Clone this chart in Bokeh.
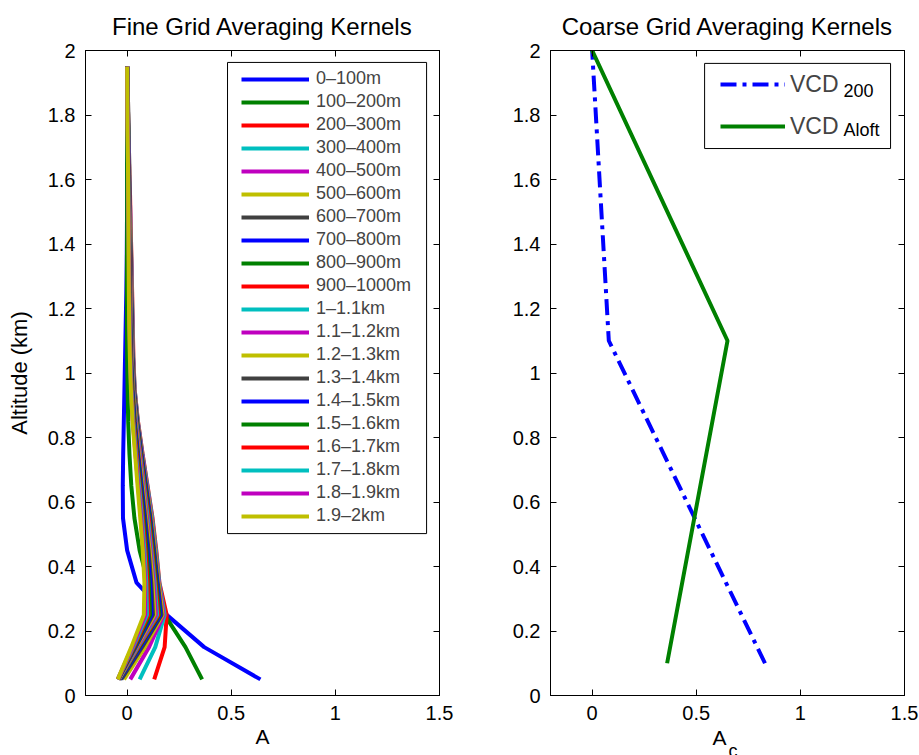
from bokeh.plotting import figure
from bokeh.layouts import row
from bokeh.models import (Range1d, FixedTicker, CustomJSTickFormatter, LinearAxis,
                          Legend, LegendItem, BoxAnnotation, Label, Title)
from bokeh.embed import file_html
from bokeh.resources import INLINE

# ---------------- data ----------------
alt_fine = [0.05, 0.15, 0.25, 0.35, 0.45, 0.55, 0.65, 0.75, 0.85, 0.95,
            1.05, 1.15, 1.25, 1.35, 1.45, 1.55, 1.65, 1.75, 1.85, 1.95]

layer_labels = ["0–100m", "100–200m", "200–300m", "300–400m", "400–500m",
                "500–600m", "600–700m", "700–800m", "800–900m", "900–1000m",
                "1–1.1km", "1.1–1.2km", "1.2–1.3km", "1.3–1.4km", "1.4–1.5km",
                "1.5–1.6km", "1.6–1.7km", "1.7–1.8km", "1.8–1.9km", "1.9–2km"]

k00 = [0.64, 0.37, 0.19, 0.045, 0.000, -0.020, -0.021, -0.019, -0.016, -0.013, -0.010, -0.007, -0.004, -0.002, -0.001, 0.000, 0.000, 0.000, 0.000, 0.000]
k01 = [0.36, 0.28, 0.18, 0.100, 0.060, 0.035, 0.020, 0.011, 0.005, 0.002, 0.000, -0.001, -0.001, -0.001, 0.000, 0.000, 0.000, 0.000, 0.000, 0.000]
k02 = [0.13, 0.18, 0.19, 0.155, 0.140, 0.122, 0.098, 0.074, 0.052, 0.036, 0.030, 0.027, 0.024, 0.021, 0.017, 0.014, 0.010, 0.007, 0.004, 0.000]
k03 = [0.06, 0.135, 0.18, 0.154, 0.138, 0.120, 0.097, 0.073, 0.051, 0.036, 0.029, 0.026, 0.023, 0.020, 0.016, 0.013, 0.010, 0.007, 0.004, 0.000]
k04 = [0.015, 0.105, 0.175, 0.152, 0.135, 0.117, 0.095, 0.072, 0.050, 0.035, 0.028, 0.025, 0.022, 0.019, 0.016, 0.013, 0.009, 0.006, 0.003, 0.000]
k05 = [-0.015, 0.085, 0.170, 0.150, 0.133, 0.115, 0.093, 0.070, 0.049, 0.034, 0.027, 0.024, 0.021, 0.018, 0.015, 0.012, 0.009, 0.006, 0.003, 0.000]
k06 = [-0.028, 0.072, 0.165, 0.147, 0.130, 0.112, 0.091, 0.069, 0.048, 0.033, 0.026, 0.023, 0.020, 0.017, 0.014, 0.011, 0.008, 0.006, 0.003, 0.000]
k07 = [-0.034, 0.064, 0.160, 0.144, 0.127, 0.109, 0.089, 0.067, 0.047, 0.032, 0.025, 0.022, 0.019, 0.016, 0.013, 0.011, 0.008, 0.005, 0.003, 0.000]
k08 = [-0.037, 0.058, 0.155, 0.140, 0.124, 0.106, 0.086, 0.065, 0.046, 0.031, 0.024, 0.021, 0.018, 0.015, 0.013, 0.010, 0.008, 0.005, 0.002, 0.000]
k09 = [-0.039, 0.054, 0.150, 0.136, 0.120, 0.103, 0.083, 0.063, 0.044, 0.030, 0.023, 0.020, 0.017, 0.015, 0.012, 0.010, 0.007, 0.005, 0.002, 0.000]
k10 = [-0.040, 0.050, 0.144, 0.132, 0.116, 0.099, 0.080, 0.061, 0.043, 0.029, 0.022, 0.019, 0.016, 0.014, 0.012, 0.009, 0.007, 0.005, 0.002, 0.000]
k11 = [-0.041, 0.047, 0.138, 0.127, 0.112, 0.095, 0.077, 0.059, 0.041, 0.028, 0.021, 0.018, 0.016, 0.013, 0.011, 0.009, 0.007, 0.004, 0.002, 0.000]
k12 = [-0.042, 0.044, 0.131, 0.122, 0.108, 0.091, 0.074, 0.056, 0.039, 0.027, 0.020, 0.017, 0.015, 0.013, 0.011, 0.008, 0.006, 0.004, 0.002, 0.000]
k13 = [-0.043, 0.041, 0.124, 0.116, 0.103, 0.087, 0.070, 0.053, 0.037, 0.026, 0.019, 0.016, 0.014, 0.012, 0.010, 0.008, 0.006, 0.004, 0.002, 0.000]
k14 = [-0.043, 0.038, 0.117, 0.110, 0.098, 0.083, 0.067, 0.050, 0.035, 0.024, 0.018, 0.015, 0.013, 0.011, 0.009, 0.007, 0.006, 0.004, 0.002, 0.000]
k15 = [-0.044, 0.035, 0.110, 0.104, 0.093, 0.079, 0.063, 0.047, 0.033, 0.023, 0.017, 0.014, 0.012, 0.010, 0.009, 0.007, 0.005, 0.003, 0.002, 0.000]
k16 = [-0.044, 0.032, 0.102, 0.098, 0.088, 0.075, 0.060, 0.045, 0.031, 0.021, 0.016, 0.013, 0.011, 0.010, 0.008, 0.006, 0.005, 0.003, 0.001, 0.000]
k17 = [-0.045, 0.028, 0.095, 0.092, 0.083, 0.071, 0.057, 0.042, 0.029, 0.020, 0.015, 0.012, 0.010, 0.009, 0.007, 0.006, 0.004, 0.003, 0.001, 0.000]
k18 = [-0.045, 0.024, 0.087, 0.087, 0.078, 0.067, 0.053, 0.040, 0.027, 0.019, 0.014, 0.011, 0.009, 0.008, 0.007, 0.005, 0.004, 0.003, 0.001, 0.000]
k19 = [-0.045, 0.020, 0.080, 0.083, 0.075, 0.063, 0.050, 0.038, 0.026, 0.018, 0.013, 0.010, 0.008, 0.007, 0.006, 0.005, 0.004, 0.002, 0.001, 0.000]

kernels = [k00, k01, k02, k03, k04, k05, k06, k07, k08, k09,
           k10, k11, k12, k13, k14, k15, k16, k17, k18, k19]

alt_coarse = [0.1, 1.1, 2.0]
vcd_200 = [0.83, 0.08, 0.0]
vcd_aloft = [0.36, 0.65, 0.0]

x_ticks = [0, 0.5, 1, 1.5]
y_ticks = [0, 0.2, 0.4, 0.6, 0.8, 1.0, 1.2, 1.4, 1.6, 1.8, 2.0]

# ---------------- styling helpers ----------------
FONT = "Liberation Sans"
matlab_colors = ["#0000ff", "#008000", "#ff0000", "#00bfbf", "#bf00bf", "#bfbf00", "#404040"]
fmt_code = "return String(Number(tick.toFixed(2)));"


def style_axis(ax):
    ax.major_tick_in = 6
    ax.major_tick_out = 0
    ax.minor_tick_line_color = None
    ax.axis_line_color = "black"
    ax.major_tick_line_color = "black"
    ax.major_label_text_font = FONT
    ax.major_label_text_color = "black"
    ax.axis_label_text_font = FONT
    ax.axis_label_text_font_style = "normal"
    ax.axis_label_text_color = "black"


def make_fig(title, width, left_border, right_border):
    p = figure(width=width, height=755, output_backend="svg", toolbar_location=None,
               x_range=Range1d(-0.2, 1.5), y_range=Range1d(0, 2),
               min_border_left=left_border, min_border_right=right_border,
               min_border_top=50, min_border_bottom=60, title=title)
    p.title.align = "center"
    p.title.text_font = FONT
    p.title.text_font_style = "normal"
    p.title.text_font_size = "24px"
    p.title.text_color = "black"
    p.title.standoff = 21
    p.xgrid.visible = False
    p.ygrid.visible = False
    p.outline_line_color = "black"
    p.outline_line_alpha = 1
    p.background_fill_color = "white"
    p.border_fill_color = "white"
    bottom = p.below[0]
    left = p.left[0]
    bottom.ticker = FixedTicker(ticks=x_ticks)
    left.ticker = FixedTicker(ticks=y_ticks)
    bottom.formatter = CustomJSTickFormatter(code=fmt_code)
    left.formatter = CustomJSTickFormatter(code=fmt_code)
    for ax in (bottom, left):
        style_axis(ax)
        ax.major_label_text_font_size = "20px"
        ax.major_label_standoff = 10
    # mirrored ticks on top and right (MATLAB box), without labels
    top = LinearAxis(ticker=FixedTicker(ticks=x_ticks),
                     formatter=CustomJSTickFormatter(code="return '';"))
    right = LinearAxis(ticker=FixedTicker(ticks=y_ticks),
                       formatter=CustomJSTickFormatter(code="return '';"))
    for ax in (top, right):
        style_axis(ax)
        ax.major_label_text_font_size = "1px"
        ax.major_label_standoff = 0
    p.add_layout(top, "above")
    p.add_layout(right, "right")
    return p, bottom, left


# ---------------- left: fine grid ----------------
p1, b1, l1 = make_fig("Fine Grid Averaging Kernels", 470, 85, 31)
l1.axis_label = "Altitude (km)"
l1.axis_label_text_font_size = "22px"
l1.axis_label_standoff = 13
b1.axis_label = "A"
b1.axis_label_text_font_size = "21px"
b1.axis_label_standoff = 2

items = []
for i, (k, lab) in enumerate(zip(kernels, layer_labels)):
    r = p1.line(k, alt_fine, line_color=matlab_colors[i % 7], line_width=4)
    items.append(LegendItem(label=lab, renderers=[r]))

p1.add_layout(BoxAnnotation(left=0.482, right=1.438, bottom=0.502, top=1.963,
                            fill_color="white", fill_alpha=1,
                            line_color="black", line_width=1, line_alpha=1))
leg1 = Legend(items=items, location=(156, 169), padding=0, margin=0, spacing=2,
              glyph_width=68, glyph_height=20, label_height=20, label_standoff=7,
              label_text_font=FONT, label_text_font_size="18px",
              border_line_alpha=0, background_fill_alpha=0)
p1.add_layout(leg1)

# ---------------- right: coarse grid ----------------
p2, b2, l2 = make_fig("Coarse Grid Averaging Kernels", 449, 80, 15)

r_a = p2.line(vcd_200, alt_coarse, line_color="#0000ff", line_width=4, line_dash="16 6 4 6")
r_b = p2.line(vcd_aloft, alt_coarse, line_color="#008000", line_width=4)

p2.add_layout(BoxAnnotation(left=0.54, right=1.433, bottom=1.696, top=1.960,
                            fill_color="white", fill_alpha=1,
                            line_color="black", line_width=1, line_alpha=1))
leg2 = Legend(items=[LegendItem(label="VCD", renderers=[r_a]),
                     LegendItem(label="VCD", renderers=[r_b])],
              location=(170, 554), padding=0, margin=0, spacing=12,
              glyph_width=65, glyph_height=30, label_height=30, label_standoff=5,
              label_text_font=FONT, label_text_font_size="23px",
              border_line_alpha=0, background_fill_alpha=0)
p2.add_layout(leg2)

for txt, yy in (("200", 1.876), ("Aloft", 1.752)):
    p2.add_layout(Label(x=1.207, y=yy, text=txt, text_font=FONT, text_font_size="18px",
                        text_baseline="middle", text_align="left", text_color="black"))

# x-axis title "A" with subscript "c", as two stacked titles below the axis
t_a = Title(text="A", align="left", offset=162, standoff=2,
            text_font=FONT, text_font_size="21px", text_font_style="normal", text_color="black")
t_c = Title(text="c", align="left", offset=178, standoff=-22,
            text_font=FONT, text_font_size="18px", text_font_style="normal", text_color="black")
p2.add_layout(t_a, "below")
p2.add_layout(t_c, "below")

layout = row(p1, p2)
open("out.html", "w").write(file_html(layout, INLINE))
